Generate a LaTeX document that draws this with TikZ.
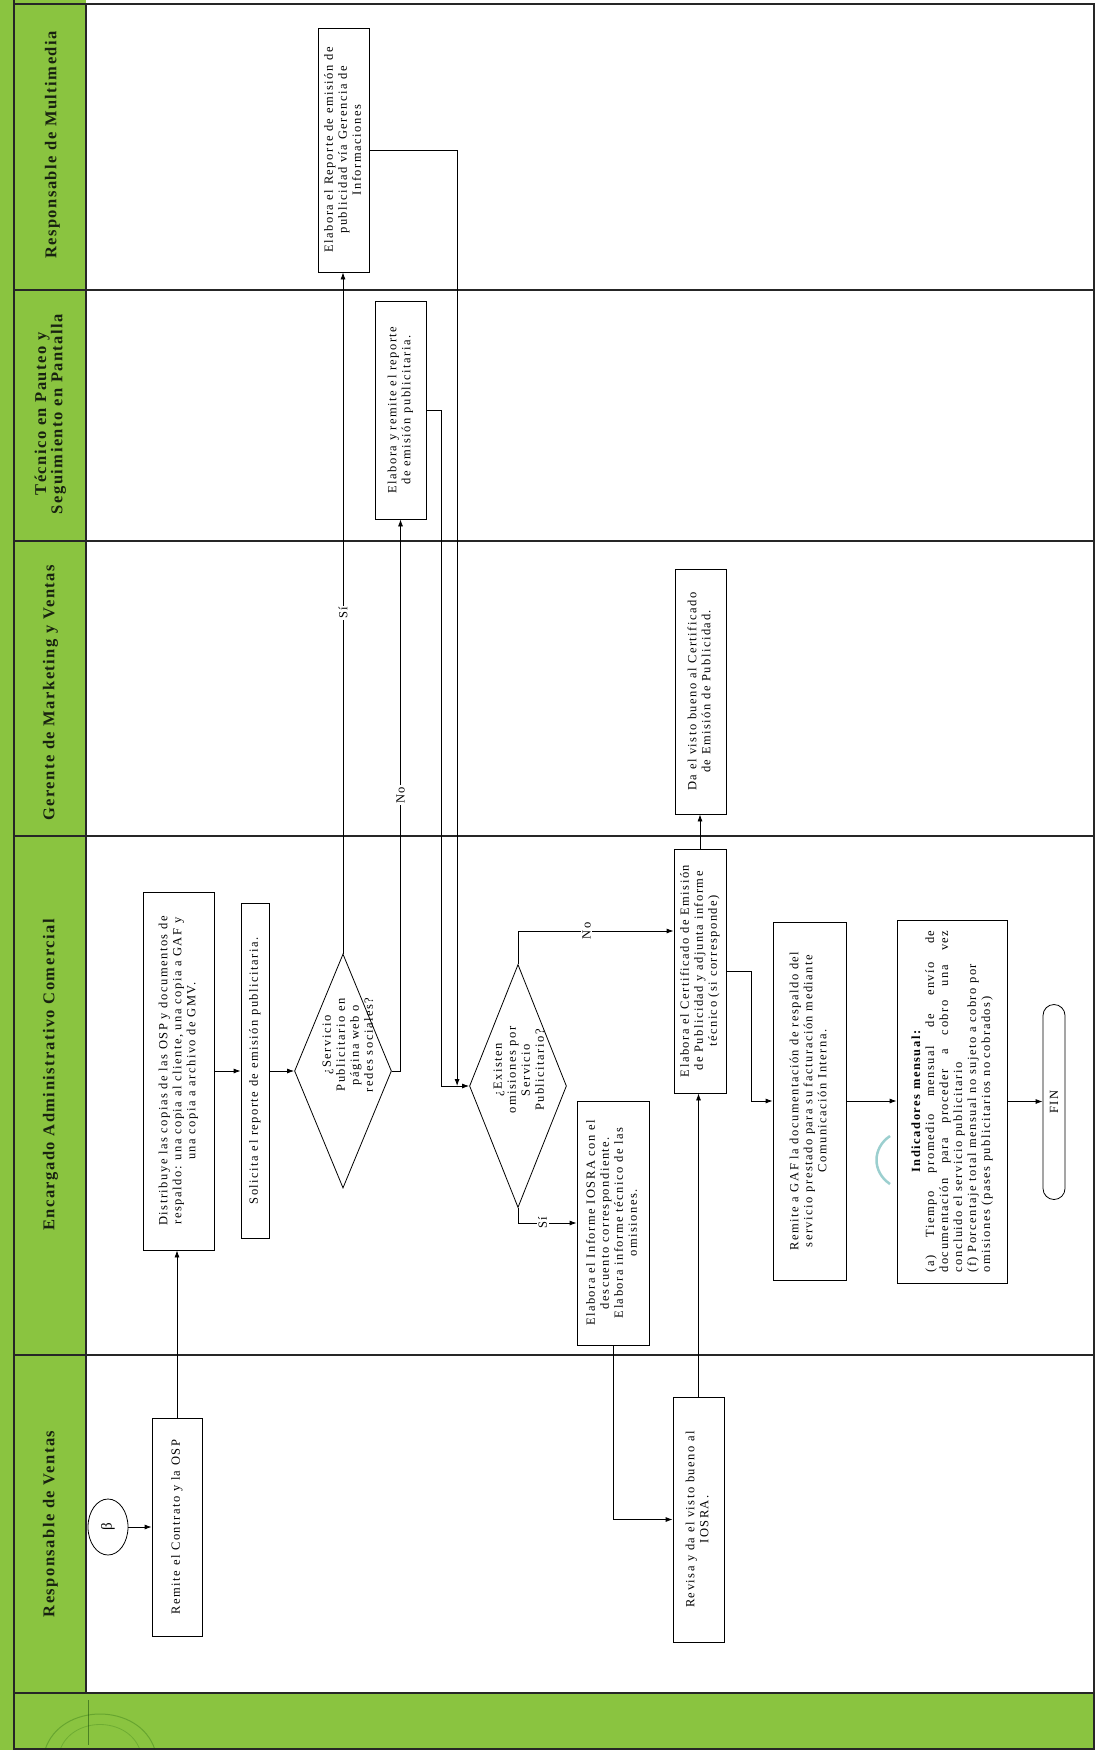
\documentclass[tikz,border=0pt]{standalone}
\usepackage{graphicx}
\usepackage{fontspec}
\setmainfont{Liberation Serif}[LetterSpace=12]
\newfontfamily\hdrfont{Liberation Serif}[LetterSpace=9]
\usetikzlibrary{arrows.meta,shapes.geometric}

\definecolor{lanegreen}{RGB}{138,196,64}
\definecolor{hdrtext}{RGB}{24,34,16}
\definecolor{stampteal}{RGB}{130,195,195}

\newcommand\boxfont{\fontsize{12.5}{14}\selectfont}
\newcommand\hdrsize{\hdrfont\fontsize{16.5}{16}\selectfont\bfseries}
% text turned to read from bottom to top
\newcommand\rtxt[1]{\rotatebox{90}{\begin{tabular}{@{}c@{}}#1\end{tabular}}}

\tikzset{
  lane/.style={line width=1.2pt, draw=black!85},
  box/.style={draw, line width=0.8pt, inner sep=0pt, fill=white, font=\boxfont},
  bx/.style 2 args={box, minimum width=#1, minimum height=#2},
  decision/.style={diamond, draw, line width=0.8pt, inner sep=0pt, fill=white},
  hdr/.style={inner sep=0pt, text=hdrtext, font=\hdrsize},
  arr/.style={-{Latex[length=7pt,width=5pt]}, line width=0.8pt},
  lbl/.style={fill=white, inner sep=1.5pt, font=\boxfont},
}

\begin{document}
\begin{tikzpicture}[x=1pt,y=-1pt]
\useasboundingbox (0,0) rectangle (1095,1750);

% page, green margins and header column
\fill[white] (0,0) rectangle (1095,1750);
\fill[lanegreen] (0,0) rectangle (14,1750);
\fill[lanegreen] (14,0) rectangle (86,1693);
\fill[lanegreen] (14,1693) rectangle (1095,1750);

% lane grid
\draw[lane] (14,0) -- (14,1750);
\draw[lane] (14,4) -- (1094,4) -- (1094,1749) -- (14,1749);
\draw[lane] (86,4) -- (86,1693);
\draw[lane] (14,290) -- (1094,290);
\draw[lane] (14,541) -- (1094,541);
\draw[lane] (14,836) -- (1094,836);
\draw[lane] (14,1355) -- (1094,1355);
\draw[lane] (14,1693) -- (1094,1693);

% faint stamp marks
\draw[green!30!black, opacity=0.25, line width=1pt]
  (45,1750) .. controls (60,1702) and (140,1702) .. (155,1750);
\draw[green!30!black, opacity=0.2, line width=0.8pt]
  (60,1750) .. controls (72,1716) and (128,1716) .. (140,1750);
\draw[green!20!black, opacity=0.45, line width=1pt] (88,1700) -- (88,1745);
\draw[stampteal, line width=2.5pt, opacity=0.8]
  (890,1136) .. controls (872,1148) and (872,1172) .. (890,1184);

% lane headers
\node[hdr] (h1) at (53,145) {\rtxt{Responsable de Multimedia}};
\node[hdr] (h2) at (51,414) {\rtxt{Técnico en Pauteo y\\Seguimiento en Pantalla}};
\node[hdr] (h3) at (51,693) {\rtxt{Gerente de Marketing y Ventas}};
\node[hdr] (h4) at (51,1075) {\rtxt{Encargado Administrativo Comercial}};
\node[hdr] (h5) at (51,1524) {\rtxt{Responsable de Ventas}};

% Responsable de Ventas
\node[ellipse, draw, line width=0.8pt, inner sep=0pt, minimum width=40pt,
      minimum height=56pt, font=\fontsize{15}{16}\selectfont] (start) at (108,1527)
      {\rotatebox{90}{β}};
\node[bx={50pt}{218pt}] (remven) at (177,1527)
  {\rtxt{Remite el Contrato y la OSP}};
\node[bx={51pt}{245pt}] (revisa) at (698.5,1519.5)
  {\rtxt{Revisa y da el visto bueno al\\IOSRA.}};

% Encargado Administrativo Comercial
\node[bx={71pt}{358pt}] (distrib) at (178.5,1071)
  {\rtxt{Distribuye las copias de las OSP y documentos de\\respaldo: una copia al cliente, una copia a GAF y\\una copia a archivo de GMV.}};
\node[bx={28pt}{335pt}] (solic) at (255,1071)
  {\rtxt{Solicita el reporte de emisión publicitaria.}};
\node[decision, minimum width=97pt, minimum height=234pt] (d1) at (343,1071) {};
\node[font=\boxfont, inner sep=0pt] (d1txt) at (349,1045)
  {\rtxt{¿Servicio\\Publicitario en\\página web o\\redes sociales?}};
\node[decision, minimum width=97pt, minimum height=243pt] (d2) at (518,1086) {};
\node[font=\boxfont, inner sep=0pt] (d2txt) at (520,1070)
  {\rtxt{¿Existen\\omisiones por\\Servicio\\Publicitario?}};
\node[bx={72pt}{244pt}] (iosra) at (613,1223)
  {\rtxt{Elabora el Informe IOSRA con el\\descuento correspondiente.\\Elabora informe técnico de las\\omisiones.}};
\node[bx={52pt}{244pt}] (cert) at (700,971)
  {\rtxt{Elabora el Certificado de Emisión\\de Publicidad y adjunta informe\\técnico (si corresponde)}};
\node[bx={73pt}{358pt}] (remgaf) at (809.5,1101)
  {\rtxt{Remite a GAF la documentación de respaldo del\\servicio prestado para su facturación mediante\\Comunicación Interna.}};
\node[bx={110pt}{363pt}] (indic) at (952,1101.5)
  {\rotatebox{90}{\parbox{342pt}{%
    {\centering\bfseries Indicadores mensual:\par}
    (a) Tiempo promedio mensual de envío de\linebreak
    documentación para proceder a cobro una vez\linebreak
    concluido el servicio publicitario\newline
    (f) Porcentaje total mensual no sujeto a cobro por\newline
    omisiones (pases publicitarios no cobrados)}}};
\node[draw, line width=0.8pt, rounded corners=11pt, inner sep=0pt, minimum width=22pt,
      minimum height=195pt, font=\boxfont] (fin) at (1054,1102) {\rotatebox{90}{FIN}};

% Gerente de Marketing y Ventas
\node[bx={51pt}{245pt}] (davisto) at (700.5,691.5)
  {\rtxt{Da el visto bueno al Certificado\\de Emisión de Publicidad.}};

% Técnico en Pauteo y Seguimiento en Pantalla
\node[bx={51pt}{218pt}] (tec) at (400.5,410)
  {\rtxt{Elabora y remite el reporte\\de emisión publicitaria.}};

% Responsable de Multimedia
\node[bx={51pt}{244pt}] (multi) at (344,150)
  {\rtxt{Elabora el Reporte de emisión de\\publicidad vía Gerencia de\\Informaciones}};

% flow
\draw[arr] (start.east) -- (remven.west);
\draw[arr] (remven.north) -- (remven.north |- distrib.south);
\draw[arr] (distrib.east) -- (distrib.east -| solic.west);
\draw[arr] (solic.east) -- (solic.east -| d1.west);
\draw[arr] (d1.north) -- node[lbl] {\rotatebox{90}{Sí}} (d1.north |- multi.south);
\draw[arr] (d1.east) -| node[lbl, pos=0.75] {\rotatebox{90}{No}} (tec.south);
\draw[arr] (tec.east) -- ++(15,0) |- (d2.west);
\coordinate (j1) at ([xshift=-12pt]d2.west);
\draw[arr] (multi.east) -| (j1);
\draw[arr] (d2.north) |- node[lbl, pos=0.72] {\rotatebox{90}{No}} ([yshift=40pt]cert.west);
\draw[arr] (d2.south) |- node[lbl, pos=0.71] {\rotatebox{90}{Sí}} (iosra.west);
\draw[arr] (iosra.south) |- (revisa.west);
\draw[arr] (revisa.north) -- (revisa.north |- cert.south);
\draw[arr] (cert.north) -- (cert.north |- davisto.south);
\draw[arr] (cert.east) -- ++(25,0) |- (remgaf.west);
\draw[arr] (remgaf.east) -- (remgaf.east -| indic.west);
\draw[arr] (indic.east) -- (indic.east -| fin.west);
\end{tikzpicture}
\end{document}
